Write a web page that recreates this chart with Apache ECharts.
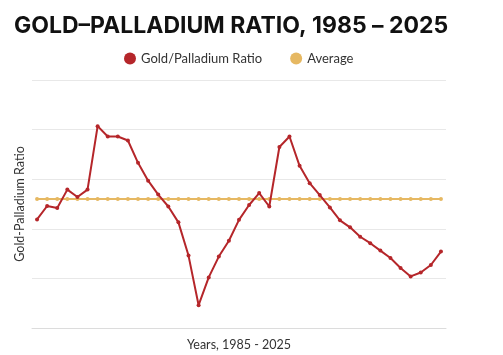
<!DOCTYPE html>
<html>
<head>
<meta charset="utf-8">
<script src="https://cdn.jsdelivr.net/npm/echarts@6/dist/echarts.min.js"></script>
<style>html,body{margin:0;padding:0;background:#fff;}#c{width:503px;height:355px;}</style>
</head>
<body>
<div id="c"></div>
<script>
const years = [];
for (let y = 1985; y <= 2025; y++) years.push(String(y));
const ratio = [2.19, 2.46, 2.42, 2.79, 2.64, 2.79, 4.07, 3.86, 3.86, 3.78,
  3.33, 2.97, 2.69, 2.45, 2.13, 1.46, 0.46, 1.02, 1.44, 1.76,
  2.18, 2.48, 2.72, 2.45, 3.65, 3.86, 3.27, 2.92, 2.68, 2.43,
  2.17, 2.03, 1.84, 1.71, 1.56, 1.41, 1.21, 1.04, 1.12, 1.27, 1.54];
const averageValue = 2.60;
const average = years.map(() => averageValue);

const chart = echarts.init(document.getElementById('c'));
chart.setOption({
  animation: false,
  title: {
    text: 'GOLD\u2013PALLADIUM RATIO, 1985 \u2013 2025',
    left: 9, top: 10,
    textStyle: { fontFamily: 'Inter', fontWeight: 'bold', fontSize: 23, color: '#111' }
  },
  legend: {
    top: 47, left: 119,
    itemWidth: 12, itemHeight: 12, itemGap: 28,
    textStyle: { fontFamily: 'Lato', fontSize: 13, color: '#333' },
    data: [
      { name: 'Gold/Palladium Ratio', icon: 'circle' },
      { name: 'Average', icon: 'circle' }
    ]
  },
  grid: { left: 32, right: 57, top: 80, bottom: 27, outerBoundsMode: 'none' },
  xAxis: {
    type: 'category', data: years, boundaryGap: true,
    name: 'Years, 1985 - 2025', nameLocation: 'middle', nameGap: 10,
    nameTextStyle: { fontFamily: 'Lato', fontSize: 12.5, color: '#333' },
    axisLine: { lineStyle: { color: '#dcdcdc', width: 1 } },
    axisTick: { show: false }, axisLabel: { show: false }
  },
  yAxis: {
    type: 'value', min: 0, max: 5, interval: 1,
    name: 'Gold-Palladium Ratio', nameLocation: 'middle', nameGap: 6,
    nameTextStyle: { fontFamily: 'Lato', fontSize: 12.5, color: '#333' },
    axisLabel: { show: false }, axisLine: { show: false }, axisTick: { show: false },
    splitLine: { lineStyle: { color: '#e8e8e8', width: 1 } }
  },
  series: [
    {
      name: 'Gold/Palladium Ratio', type: 'line', data: ratio,
      symbol: 'circle', symbolSize: 4, z: 3,
      itemStyle: { color: '#b5262a' },
      lineStyle: { color: '#b5262a', width: 2 }
    },
    {
      name: 'Average', type: 'line', data: average,
      symbol: 'circle', symbolSize: 4, z: 2,
      itemStyle: { color: '#e6b862' },
      lineStyle: { color: '#e6b862', width: 2 }
    }
  ]
});
</script>
</body>
</html>
